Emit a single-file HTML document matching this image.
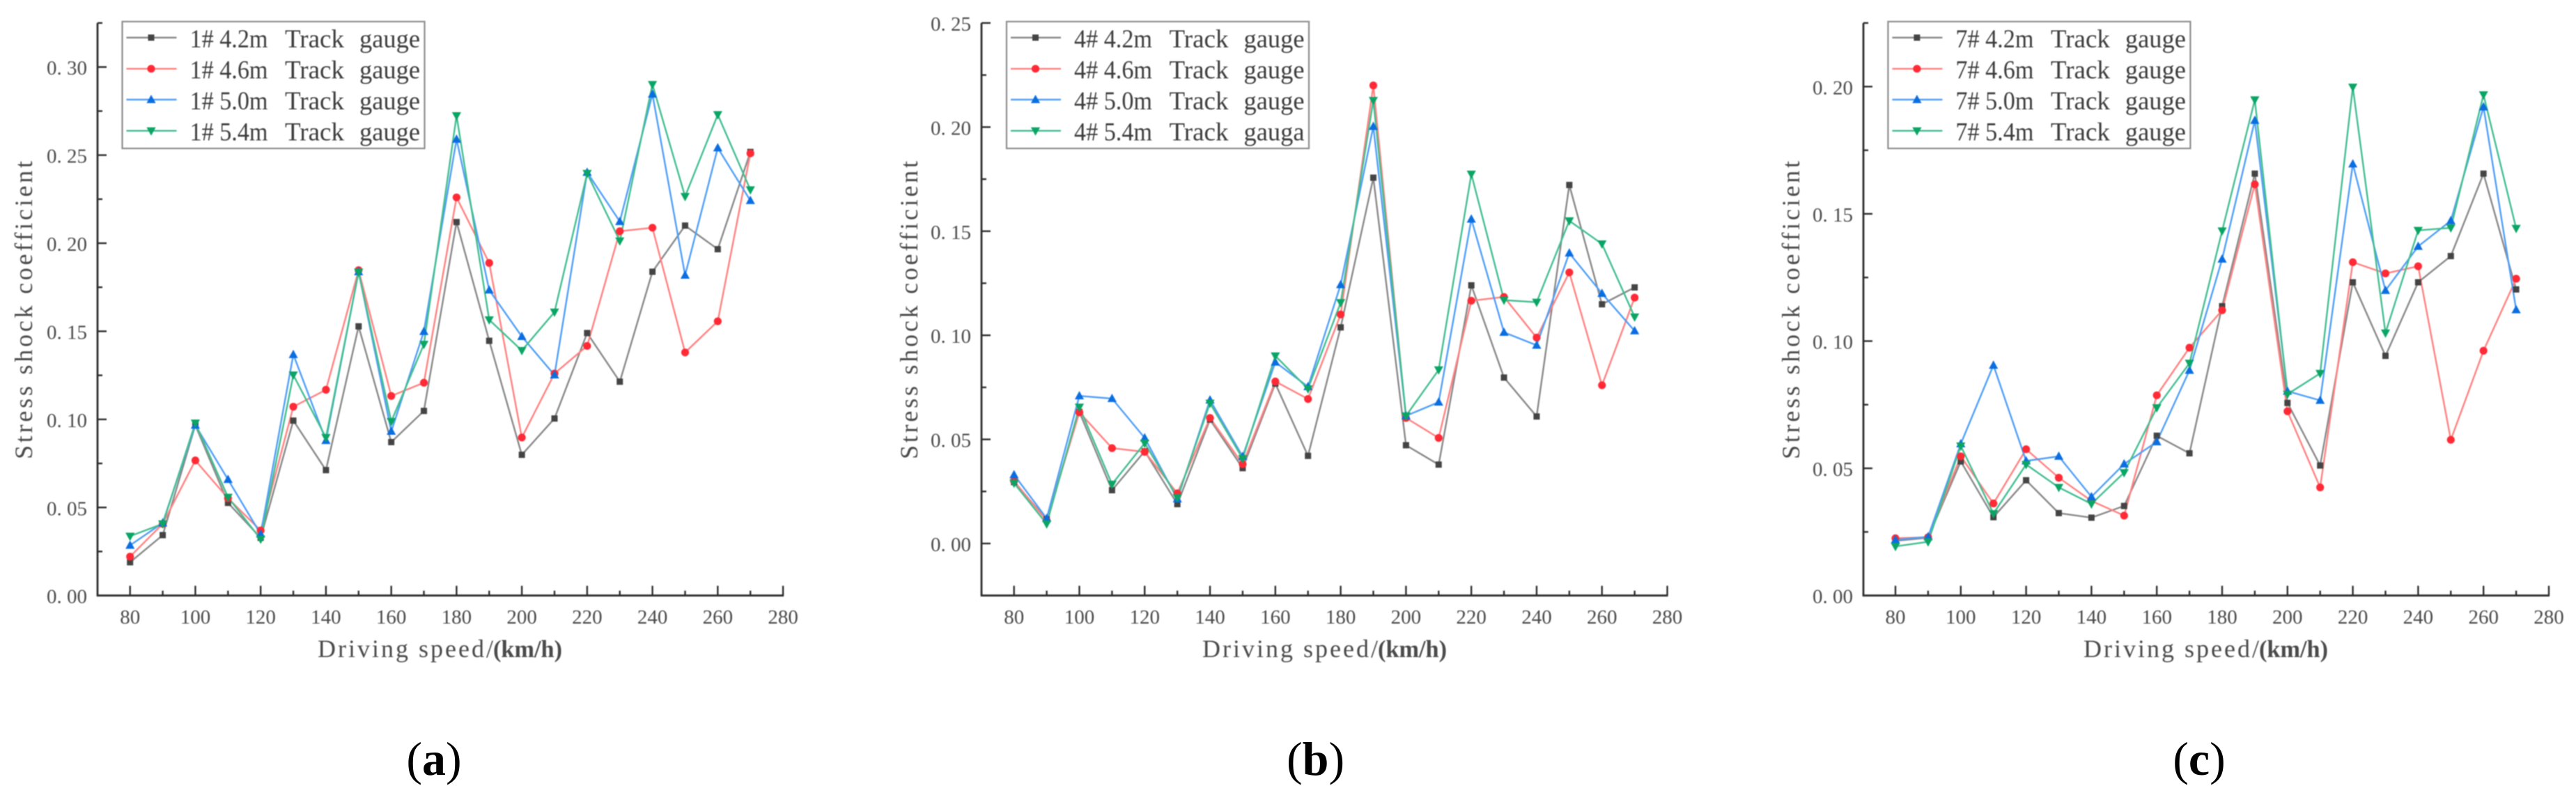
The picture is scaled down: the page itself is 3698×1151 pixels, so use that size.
<!DOCTYPE html>
<html lang="en">
<head>
<meta charset="utf-8">
<title>Stress shock coefficient vs driving speed</title>
<style>
html,body{margin:0;padding:0;background:#fff;}
svg{display:block;}
text{font-family:"Liberation Serif",serif;fill:#4a4a4a;}
</style>
</head>
<body>
<svg id="figure" xmlns="http://www.w3.org/2000/svg" width="3698" height="1151" viewBox="0 0 3698 1151">
<rect x="0" y="0" width="3698" height="1151" fill="#ffffff"/>
</svg>
<script>
// Shared categories and tick labels
const speeds = [80,90,100,110,120,130,140,150,160,170,180,190,200,210,220,230,240,250,260,270];
const xMajorTicks = [80,100,120,140,160,180,200,220,240,260,280];
const xMinorTicks = [90,110,130,150,170,190,210,230,250,270];

// Panel (a)
const a42 = [.0189,.0343,.0967,.0526,.0328,.0993,.0712,.1528,.0871,.1048,.212,.1446,.0799,.1005,.149,.1214,.1838,.21,.1966,.2518];
const a46 = [.0221,.0407,.0767,.0552,.0369,.1072,.1168,.1847,.1133,.1208,.226,.1888,.0897,.126,.1417,.2068,.2088,.138,.1557,.251];
const a50 = [.0285,.0412,.0967,.0659,.0349,.1368,.088,.1838,.0932,.1499,.259,.1734,.147,.1252,.2402,.2123,.2846,.1818,.2541,.2242];
const a54 = [.0337,.0407,.0979,.0558,.032,.1252,.0897,.1836,.0988,.1426,.2724,.1565,.1391,.1609,.2396,.2013,.2901,.2265,.273,.2303];
const aLegend = ["1# 4.2m Track gauge","1# 4.6m Track gauge","1# 5.0m Track gauge","1# 5.4m Track gauge"];
const aYMajor = [0,.05,.10,.15,.20,.25,.30];
const aYMinor = [.025,.075,.125,.175,.225,.275,.325];

// Panel (b)
const b42 = [.0295,.0116,.0632,.0256,.0443,.0189,.0595,.0362,.0768,.0421,.1038,.1757,.0472,.0379,.124,.0797,.061,.1722,.1149,.123];
const b46 = [.03,.011,.063,.0458,.044,.0241,.0603,.0381,.0778,.0694,.11,.22,.0603,.0507,.1166,.1184,.0989,.1302,.076,.1181];
const b50 = [.033,.012,.0709,.0696,.0507,.0214,.0689,.0418,.0871,.0753,.1243,.2003,.0613,.0679,.1558,.1014,.0952,.1395,.1201,.1021];
const b54 = [.029,.0094,.0655,.0285,.0482,.0221,.0674,.0408,.0901,.0743,.1157,.2128,.0613,.0834,.1774,.1169,.1159,.155,.1439,.1088];
const bLegend = ["4# 4.2m Track gauge","4# 4.6m Track gauge","4# 5.0m Track gauge","4# 5.4m Track gauga"];
const bYMajor = [0,.05,.10,.15,.20,.25];
const bYMinor = [-.025,.025,.075,.125,.175,.225];

// Panel (c)
const c42 = [.0215,.0227,.0527,.0308,.0453,.0324,.0306,.0352,.0628,.0559,.1137,.1658,.0757,.0511,.1231,.0942,.1231,.1334,.1658,.1203];
const c46 = [.0225,.0229,.0547,.0362,.0575,.0463,.0372,.0314,.0787,.0974,.1121,.1616,.0724,.0425,.131,.1266,.1294,.0612,.0962,.1245];
const c50 = [.0219,.0231,.0596,.0905,.0529,.0547,.0388,.0517,.0604,.0885,.1322,.1867,.0803,.0767,.1696,.1199,.1372,.1473,.192,.1123];
const c54 = [.0193,.0211,.0588,.0322,.0515,.0425,.036,.0483,.0738,.0913,.1433,.1948,.0791,.0873,.1998,.1032,.1435,.1445,.1968,.1443];
const cLegend = ["7# 4.2m Track gauge","7# 4.6m Track gauge","7# 5.0m Track gauge","7# 5.4m Track gauge"];
const cYMajor = [0,.05,.10,.15,.20];
const cYMinor = [.025,.075,.125,.175,.225];

const seriesKeys = ["4-2m","4-6m","5-0m","5-4m"];
const lineColors = ["#888888","#ff8080","#4f9ef5","#42bd90"];
const markColors = ["#444444","#ff2a35","#0a6ee0","#0aa565"];
const NS = "http://www.w3.org/2000/svg";
const figure = document.getElementById("figure");

function make(tag, parent, attrs, text){
  const el = document.createElementNS(NS, tag);
  for (const k in attrs) el.setAttribute(k, attrs[k]);
  if (text !== undefined) el.textContent = text;
  parent.appendChild(el);
  return el;
}

function drawMarker(g, kind, cx, cy){
  let el;
  if (kind === 0) {
    el = make("rect", g, {x:cx-4.5, y:cy-4.5, width:9, height:9, fill:markColors[0]});
  } else if (kind === 1) {
    el = make("circle", g, {cx:cx, cy:cy, r:5.6, fill:markColors[1]});
  } else if (kind === 2) {
    el = make("polygon", g, {points:(cx)+","+(cy-7)+" "+(cx+6.6)+","+(cy+5)+" "+(cx-6.6)+","+(cy+5), fill:markColors[2]});
  } else {
    el = make("polygon", g, {points:(cx)+","+(cy+7)+" "+(cx+6.6)+","+(cy-5)+" "+(cx-6.6)+","+(cy-5), fill:markColors[3]});
  }
  
  
}

function drawPanel(id, series, legend, yMajor, yMinor, yMin, yMax, L){
  const bottom = 854.7, top = 33;
  const sx = v => L.x80 + (v - 80) * L.pxPerKmh;
  const sy = v => bottom - (v - yMin) / (yMax - yMin) * (bottom - top);

  const panel = make("g", figure, {style:"filter:blur(0.75px)"});
  
  

  const xAxis = make("line", panel, {x1:L.axisX-1, x2:sx(280)+1, y1:bottom, y2:bottom, stroke:"#2c2c2c", "stroke-width":2.8});
  
  
  const yAxis = make("line", panel, {x1:L.axisX, x2:L.axisX, y1:top, y2:bottom+1, stroke:"#2c2c2c", "stroke-width":2.8});
  
  

  xMajorTicks.forEach(v => {
    const t = make("line", panel, {x1:sx(v), x2:sx(v), y1:bottom, y2:bottom-14, stroke:"#2c2c2c", "stroke-width":2.4});
    
    
    const lab = make("text", panel, {x:sx(v), y:895, "text-anchor":"middle", "font-size":29}, String(v));
    
    
  });
  xMinorTicks.forEach(v => {
    const t = make("line", panel, {x1:sx(v), x2:sx(v), y1:bottom, y2:bottom-7, stroke:"#2c2c2c", "stroke-width":2.4});
    
    
  });
  yMajor.forEach(v => {
    const t = make("line", panel, {x1:L.axisX, x2:L.axisX+13, y1:sy(v), y2:sy(v), stroke:"#2c2c2c", "stroke-width":2.4});
    
    
    const lab = make("text", panel, {x:L.axisX-15, y:sy(v)+11, "text-anchor":"end", "font-size":29}, "0. " + v.toFixed(2).slice(2));
    
    
  });
  yMinor.forEach(v => {
    const t = make("line", panel, {x1:L.axisX, x2:L.axisX+7, y1:sy(v), y2:sy(v), stroke:"#2c2c2c", "stroke-width":2.4});
    
    
  });

  series.forEach((values, s) => {
    const g = make("g", panel, {});
    
    
    const pts = values.map((v, i) => sx(speeds[i]).toFixed(1) + "," + sy(v).toFixed(1)).join(" ");
    const line = make("polyline", g, {points:pts, fill:"none", stroke:lineColors[s], "stroke-width":2.4, "stroke-linejoin":"miter"});
    
    
  });
  series.forEach((values, s) => {
    const g = make("g", panel, {});
    
    
    values.forEach((v, i) => drawMarker(g, s, sx(speeds[i]), sy(v)));
  });

  const box = make("g", panel, {});
  
  
  const frame = make("rect", box, {x:L.legendX, y:31, width:434, height:182, fill:"#ffffff", stroke:"#8c8c8c", "stroke-width":2.2});
  
  
  const rows = [54, 98.7, 143, 187.7];
  legend.forEach((label, i) => {
    const row = make("g", box, {});
    
    
    const swatch = make("line", row, {x1:L.legendX+6, x2:L.legendX+78, y1:rows[i], y2:rows[i], stroke:lineColors[i], "stroke-width":2.4});
    
    
    drawMarker(row, i, L.legendX+41.5, rows[i]);
    const parts = label.split(" ");
    const num = make("text", row, {x:L.legendX+97, y:rows[i]+14, "font-size":37, textLength:112, lengthAdjust:"spacingAndGlyphs", style:"fill:#3c3c3c"}, parts[0] + " " + parts[1]);
    
    
    const word1 = make("text", row, {x:L.legendX+233.5, y:rows[i]+14, "font-size":37, textLength:85, lengthAdjust:"spacingAndGlyphs", style:"fill:#3c3c3c"}, parts[2]);
    
    
    const word2 = make("text", row, {x:L.legendX+340.5, y:rows[i]+14, "font-size":37, textLength:87, lengthAdjust:"spacingAndGlyphs", style:"fill:#3c3c3c"}, parts[3]);
    
    
  });

  const xTitle = make("text", panel, {x:L.xTitleX, y:943, "font-size":36, textLength:252, lengthAdjust:"spacing"}, "Driving speed/");
  
  
  const xUnit = make("text", panel, {x:L.xTitleX+252, y:943, "font-size":35, "font-weight":"bold", textLength:99, lengthAdjust:"spacingAndGlyphs"}, "(km/h)");
  
  

  const yTitle = make("text", panel, {transform:"translate("+L.yTitleX+",445) rotate(-90)", "text-anchor":"middle", "font-size":36, textLength:428, lengthAdjust:"spacing"}, "Stress shock coefficient");
  
  
}

function drawCaption(letter, x){
  const t = make("text", figure, {x:x, y:1112, "text-anchor":"middle", "font-size":68, style:"fill:#000"});
  
  
  make("tspan", t, {}, "(");
  make("tspan", t, {"font-weight":"bold"}, letter);
  make("tspan", t, {}, ")");
}

drawPanel("a", [a42,a46,a50,a54], aLegend, aYMajor, aYMinor, 0, .325,
  {axisX:140, x80:186.7, pxPerKmh:4.687, legendX:175.5, xTitleX:456, yTitleX:46});
drawPanel("b", [b42,b46,b50,b54], bLegend, bYMajor, bYMinor, -.025, .25,
  {axisX:1409, x80:1455.7, pxPerKmh:4.689, legendX:1445, xTitleX:1726, yTitleX:1317});
drawPanel("c", [c42,c46,c50,c54], cLegend, cYMajor, cYMinor, 0, .225,
  {axisX:2675, x80:2721, pxPerKmh:4.69, legendX:2710.4, xTitleX:2991, yTitleX:2583});

drawCaption("a", 623);
drawCaption("b", 1888.6);
drawCaption("c", 3157);
</script>
</body>
</html>
